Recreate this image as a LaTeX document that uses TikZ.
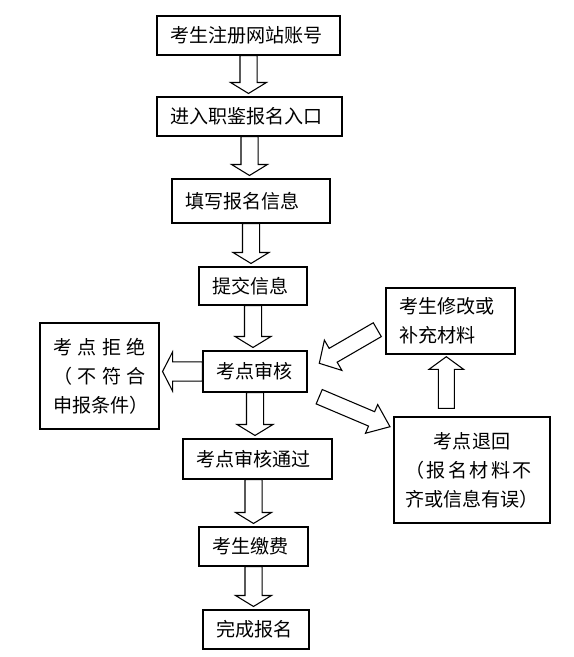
\documentclass[tikz,border=0pt]{standalone}
\usepackage{fontspec}
\setmainfont{Noto Sans CJK SC}
\usetikzlibrary{calc}

\tikzset{
  stepbox/.style={draw, line width=0.8pt, fill=white, inner xsep=9.75pt, inner ysep=0pt, align=left,
    font=\fontsize{14.3pt}{21.75pt}\selectfont},
  arrw/.store in=\arrw, arrh/.store in=\arrh, arrl/.store in=\arrl, arrg/.store in=\arrg,
  arrw=6.4pt, arrh=13.5pt, arrl=8.25pt, arrg=2.25pt,
  fatarrow/.style={line width=0.8pt, line join=miter, fill=white, to path={
    ($(\tikztostart)!\arrw!90:(\tikztotarget)$)
    -- ($($(\tikztotarget)!\arrg+\arrl!(\tikztostart)$)!\arrw!-90:(\tikztostart)$)
    -- ($($(\tikztotarget)!\arrg+\arrl!(\tikztostart)$)!\arrh!-90:(\tikztostart)$)
    -- ($(\tikztotarget)!\arrg!(\tikztostart)$)
    -- ($($(\tikztotarget)!\arrg+\arrl!(\tikztostart)$)!\arrh!90:(\tikztostart)$)
    -- ($($(\tikztotarget)!\arrg+\arrl!(\tikztostart)$)!\arrw!90:(\tikztostart)$)
    -- ($(\tikztostart)!\arrw!-90:(\tikztotarget)$) -- cycle}}
}

\begin{document}
\begin{tikzpicture}[x=0.75pt,y=0.75pt,yscale=-1,xscale=1]
\useasboundingbox (0,0) rectangle (574,657);

%Shape: Rectangle [main column]
\node[stepbox, text width=117.75pt, minimum height=29.25pt] (reg) at (248.5,35.5) {考生注册网站账号};
\node[stepbox, text width=119.25pt, minimum height=29.25pt] (entry) at (249.5,116.5) {进入职鉴报名入口};
\node[stepbox, text width=99pt, minimum height=33pt] (fillin) at (251,201) {填写报名信息};
\node[stepbox, text width=61.5pt, minimum height=28.5pt] (submit) at (253,286) {提交信息};
\node[stepbox, text width=58.5pt, minimum height=30.75pt] (audit) at (255,371.5) {考点审核};
\node[stepbox, text width=92.25pt, minimum height=30pt] (pass) at (257.5,459) {考点审核通过};
\node[stepbox, text width=62.25pt, minimum height=29.25pt] (pay) at (253.5,546.5) {考生缴费};
\node[stepbox, text width=60pt, minimum height=29.25pt] (done) at (256,629.5) {完成报名};

%Shape: Rectangle [side boxes]
\node[stepbox, text width=69.75pt, minimum height=79.5pt] (reject) at (99.5,376)
  {\makebox[\linewidth][l]{考\hfill 点\hfill 拒\hfill 绝}\\
   \makebox[\linewidth][l]{（\hfill 不\hfill 符\hfill 合}\\
   申报条件）};
\node[stepbox, text width=77.25pt, minimum height=49.5pt] (revise) at (450.5,321)
  {考生修改或\\补充材料};
\node[stepbox, inner xsep=8.25pt, text width=100.5pt, minimum height=79.5pt] (back) at (472,470)
  {\makebox[\linewidth][c]{考点退回}\\
   \makebox[95pt][l]{（\hfill 报\hfill 名\hfill 材\hfill 料\hfill 不}\\
   齐或信息有误）};

%Down Arrow
\draw[fatarrow] (reg.south) to (reg.south |- entry.north);
\draw[fatarrow] (entry.south) to (entry.south |- fillin.north);
\draw[fatarrow] (fillin.south) to (fillin.south |- submit.north);
\draw[fatarrow] (submit.south) to (submit.south |- audit.north);
\draw[fatarrow] (audit.south) to (audit.south |- pass.north);
\draw[fatarrow] (pay.north |- pass.south) to (pay.north);
\draw[fatarrow] (pay.south) to (pay.south |- done.north);

%Left Arrow
\draw[fatarrow, arrw=7.25pt, arrh=14.6pt, arrl=7.5pt] (audit.west) to (audit.west -| reject.east);

%Up Arrow
\coordinate (upS) at (446.3,408.3);
\coordinate (upT) at (446.3,356.7);
\draw[fatarrow, arrw=6pt, arrh=13pt, arrl=9.5pt, arrg=0pt] (upS) to (upT);

%Slanted Arrows
\coordinate (inS) at (377.3,329.7);
\coordinate (inT) at (319.3,363.3);
\draw[fatarrow, arrw=6pt, arrh=13.1pt, arrl=12pt, arrg=0pt] (inS) to (inT);
\coordinate (outS) at (319.2,396.7);
\coordinate (outT) at (390,426.7);
\draw[fatarrow, arrw=5.85pt, arrh=11.7pt, arrl=15pt, arrg=0pt] (outS) to (outT);

\end{tikzpicture}
\end{document}
